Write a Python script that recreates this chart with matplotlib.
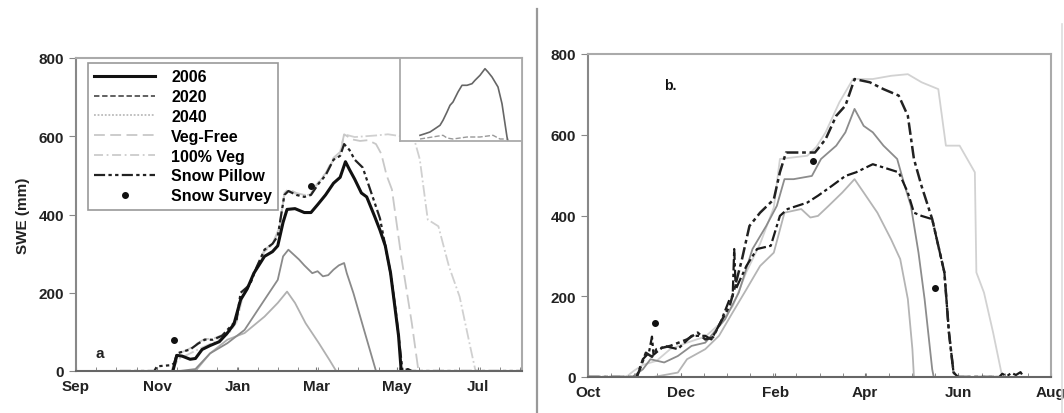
import numpy as np
import matplotlib
matplotlib.use("Agg")
import matplotlib.pyplot as plt
from matplotlib.lines import Line2D

plt.rcParams['font.family'] = ['Liberation Sans', 'DejaVu Sans']
plt.rcParams['font.weight'] = 'bold'

# ---- panel a (days since 1 Sep) ----
a_month_days = [0, 61, 122, 181, 242, 303]
a_month_labels = ['Sep', 'Nov', 'Jan', 'Mar', 'May', 'Jul']

a_2006_day = [73, 76, 80, 86, 90, 95, 101, 108, 114, 119, 124, 129, 134, 142, 148, 152, 156, 159, 165, 172,
              177, 182, 188, 194, 199, 203, 206, 210, 215, 219, 225, 229, 233, 237, 240, 243, 245]
a_2006_swe = [0, 40, 38, 30, 32, 55, 65, 75, 97, 120, 182, 210, 250, 293, 305, 320, 380, 413, 415, 405,
              405, 425, 450, 480, 495, 535, 515, 490, 455, 445, 395, 360, 320, 250, 170, 90, 0]

a_2020_day = [78, 90, 101, 114, 127, 142, 152, 156, 160, 168, 172, 178, 182, 186, 190, 194, 198, 202, 204, 209, 217, 226]
a_2020_swe = [0, 5, 45, 71, 105, 182, 233, 293, 310, 285, 270, 250, 255, 242, 245, 259, 270, 276, 250, 199, 105, 0]

a_2040_day = [90, 101, 114, 127, 142, 152, 159, 165, 173, 183, 191, 196]
a_2040_swe = [0, 45, 80, 97, 139, 174, 203, 174, 122, 71, 28, 0]

a_vegfree_day = [72, 76, 81, 86, 92, 97, 103, 110, 116, 121, 126, 131, 136, 142, 148, 153, 157, 160, 166, 172,
                 177, 183, 188, 194, 199, 202, 208, 214, 220, 226, 230, 234, 238, 245, 253, 258]
a_vegfree_swe = [0, 45, 50, 58, 72, 82, 82, 92, 102, 135, 205, 225, 265, 310, 325, 365, 455, 465, 455, 450,
                 455, 485, 505, 545, 560, 605, 592, 588, 590, 580, 555, 500, 464, 293, 122, 0]

a_veg100_day = [72, 77, 86, 95, 105, 115, 121, 126, 131, 136, 142, 148, 153, 157, 160, 166, 172, 177, 183, 188,
                194, 199, 202, 210, 218, 226, 235, 245, 255, 259, 265, 273, 281, 289, 297, 301]
a_veg100_swe = [0, 30, 45, 60, 75, 95, 125, 195, 222, 262, 305, 322, 360, 450, 462, 452, 448, 452, 482, 505,
                540, 555, 605, 598, 600, 602, 605, 600, 590, 541, 387, 370, 267, 190, 62, 0]

a_pillow_day = [33, 59, 61, 72, 74, 76, 81, 86, 92, 97, 103, 110, 114, 121, 124, 131, 136, 142, 148, 152, 157,
                160, 166, 172, 177, 183, 188, 194, 199, 202, 206, 210, 216, 220, 225, 229, 233, 237, 241, 244,
                246, 250, 253, 338]
a_pillow_swe = [0, 0, 12, 15, 20, 45, 50, 55, 70, 80, 80, 90, 105, 130, 200, 220, 265, 310, 325, 345, 450,
                460, 450, 445, 450, 480, 500, 540, 550, 580, 565, 540, 520, 480, 430, 390, 320, 250, 150, 60,
                0, 5, 0, 0]

a_survey_day = [74, 177]
a_survey_swe = [80, 473]

# inset (pixel-ish units of the little sub-plot)
inset_x = [20, 25, 30, 35, 40, 43, 47, 50, 53, 58, 62, 67, 72, 75, 80, 85, 88, 92, 95, 98, 102, 105, 107, 108]
inset_y = [5.7, 7.3, 9, 12.3, 15.7, 20.7, 29, 35.7, 39, 49, 55.7, 55.7, 57.3, 60.7, 65.7, 72.3, 69, 64, 59,
           54, 37.3, 17.3, 4, 0]
inset_low_x = [20, 43, 47, 53, 67, 80, 93, 100, 107]
inset_low_y = [2, 5.7, 3, 2, 4, 4, 5.7, 2, 2]

# ---- panel b (days since 1 Oct) ----
b_month_days = [0, 61, 123, 182, 243, 304]
b_month_labels = ['Oct', 'Dec', 'Feb', 'Apr', 'Jun', 'Aug']

b_upper_day = [0, 32, 34, 38, 42, 45, 54, 65, 72, 77, 82, 87, 93, 96, 101, 106, 113, 122, 126, 130, 145, 149,
               152, 156, 163, 169, 175, 185, 194, 204, 210, 214, 219, 226, 230, 234, 237, 240, 243, 268]
b_upper_swe = [0, 0, 19, 60, 50, 69, 77, 93, 110, 93, 98, 135, 176, 217, 290, 374, 407, 440, 507, 556, 556, 556,
               570, 589, 647, 672, 738, 730, 713, 697, 647, 540, 473, 391, 325, 259, 110, 11, 0, 0]

b_lower_day = [0, 32, 36, 40, 42, 43, 50, 59, 68, 77, 81, 87, 93, 95, 96, 97, 99, 104, 111, 120, 126, 131, 144,
               151, 160, 169, 176, 187, 194, 204, 210, 214, 219, 226, 230, 234, 237, 240, 243, 270, 272, 275,
               278, 281, 284, 286]
b_lower_swe = [0, 0, 44, 60, 100, 55, 77, 69, 102, 102, 93, 135, 193, 200, 317, 217, 234, 275, 317, 325, 399,
               416, 432, 449, 473, 498, 507, 527, 519, 507, 457, 407, 399, 391, 325, 259, 110, 11, 0, 0, 8, 2,
               10, 5, 12, 0]

b_mid_day = [29, 36, 41, 50, 59, 68, 77, 90, 99, 108, 117, 124, 129, 135, 147, 153, 163, 169, 175, 181, 187,
             194, 203, 208, 212, 217, 221, 226, 227]
b_mid_swe = [0, 19, 44, 36, 52, 77, 85, 143, 209, 317, 374, 424, 490, 490, 498, 540, 573, 606, 664, 622, 606,
             573, 540, 473, 424, 308, 193, 19, 0]

b_light_day = [43, 59, 65, 77, 86, 95, 104, 113, 122, 129, 140, 146, 151, 158, 167, 175, 181, 190, 199, 205,
               210, 213, 214]
b_light_swe = [0, 11, 44, 69, 102, 160, 217, 275, 308, 407, 416, 395, 399, 424, 457, 490, 457, 407, 341, 292,
               193, 69, 0]

b_pale_day = [25, 30, 36, 45, 54, 65, 77, 86, 95, 104, 113, 122, 126, 144, 150, 156, 165, 174, 187, 199, 210,
              219, 230, 235, 244, 249, 254, 255, 260, 266, 272]
b_pale_swe = [0, 15, 30, 40, 69, 85, 100, 130, 175, 260, 330, 420, 540, 548, 570, 606, 680, 738, 738, 746, 750,
              730, 713, 573, 573, 540, 507, 259, 209, 110, 0]

b_survey_day = [44, 148, 228]
b_survey_swe = [133, 534, 221]

W, H = 1064, 414
fig = plt.figure(figsize=(W / 100, H / 100), dpi=100)
fig.patch.set_facecolor('white')


def style_axes(ax, xmax, month_days, month_labels):
    ax.set_xlim(0, xmax)
    ax.set_ylim(0, 800)
    ax.set_yticks([0, 200, 400, 600, 800])
    ax.set_xticks(month_days)
    ax.set_xticklabels(month_labels)
    ax.set_xticks(np.arange(0, xmax, 15.2), minor=True)
    ax.tick_params(axis='y', direction='out', length=5, color='#888888', labelsize=11, labelcolor='#222222')
    ax.tick_params(axis='x', which='both', direction='in', length=3, color='#777777', labelsize=11,
                   labelcolor='#222222', pad=6)
    for lab in ax.get_xticklabels() + ax.get_yticklabels():
        lab.set_fontweight('bold')
    for side in ['top', 'right']:
        ax.spines[side].set_color('#aaaaaa')
        ax.spines[side].set_linewidth(1.5)
    ax.spines['left'].set_color('#888888')
    ax.spines['bottom'].set_color('#666666')
    ax.spines['left'].set_linewidth(1.5)
    ax.spines['bottom'].set_linewidth(1.5)


# panel a
ax1 = fig.add_axes([76 / W, 1 - 372 / H, 446 / W, 313 / H])
ax1.plot(a_veg100_day, a_veg100_swe, color='#d0d0d0', lw=1.3, ls='-.', label='100% Veg')
ax1.plot(a_vegfree_day, a_vegfree_swe, color='#c8c8c8', lw=1.3, ls=(0, (8, 3)), label='Veg-Free')
ax1.plot(a_2040_day, a_2040_swe, color='#b0b0b0', lw=1.3, ls='-', label='2040')
ax1.plot(a_2020_day, a_2020_swe, color='#8a8a8a', lw=1.3, ls='-', label='2020')
ax1.plot(a_pillow_day, a_pillow_swe, color='#222222', lw=1.6, ls=(0, (5, 1.5, 1.5, 1.5, 1.5, 1.5)),
         label='Snow Pillow')
ax1.plot(a_2006_day, a_2006_swe, color='#111111', lw=2.2, label='2006')
ax1.plot(a_survey_day, a_survey_swe, 'o', color='#111111', ms=4, label='Snow Survey')
ax1.text(15, 35, 'a', fontsize=11, fontweight='bold', color='#222222')
ax1.set_ylabel('SWE (mm)', fontsize=11, fontweight='bold', color='#222222', labelpad=6)
style_axes(ax1, 336, a_month_days, a_month_labels)

handles = [
    Line2D([], [], color='#111111', lw=2.2),
    Line2D([], [], color='#555555', lw=1.3, ls=(0, (3, 1.5))),
    Line2D([], [], color='#bbbbbb', lw=1.3, ls=(0, (1, 1))),
    Line2D([], [], color='#c8c8c8', lw=1.3, ls=(0, (6, 3))),
    Line2D([], [], color='#cccccc', lw=1.3, ls=(0, (5, 2, 1, 2))),
    Line2D([], [], color='#222222', lw=1.6, ls=(0, (5, 1.5, 1.5, 1.5, 1.5, 1.5))),
    Line2D([], [], color='#111111', ls='none', marker='o', ms=4),
]
labels = ['2006', '2020', '2040', 'Veg-Free', '100% Veg', 'Snow Pillow', 'Snow Survey']
leg = ax1.legend(handles, labels, loc='upper left', bbox_to_anchor=(12 / 446, 1 - 5 / 313),
                 borderaxespad=0, fancybox=False, framealpha=1, edgecolor='#999999',
                 prop={'family': ['Liberation Sans'], 'weight': 'bold', 'size': 11.5},
                 handlelength=3.8, handletextpad=1.0, labelspacing=0.3, borderpad=0.4)
leg.get_frame().set_linewidth(1.2)

# inset in panel a
ax_in = fig.add_axes([400 / W, 1 - 142 / H, 122 / W, 83 / H])
ax_in.plot(inset_x, inset_y, color='#666666', lw=1.2)
ax_in.plot(inset_low_x, inset_low_y, color='#999999', lw=1.0, ls='--')
ax_in.set_xlim(0, 122)
ax_in.set_ylim(0, 83)
ax_in.set_xticks([])
ax_in.set_yticks([])
for s in ax_in.spines.values():
    s.set_color('#aaaaaa')
    s.set_linewidth(1.3)

# panel b
ax2 = fig.add_axes([588 / W, 1 - 378 / H, 463 / W, 323 / H])
ax2.plot(b_pale_day, b_pale_swe, color='#d2d2d2', lw=1.3)
ax2.plot(b_light_day, b_light_swe, color='#b4b4b4', lw=1.3)
ax2.plot(b_mid_day, b_mid_swe, color='#8c8c8c', lw=1.3)
ax2.plot(b_lower_day, b_lower_swe, color='#1a1a1a', lw=1.6, ls=(0, (5, 1.5, 1.5, 1.5)))
ax2.plot(b_upper_day, b_upper_swe, color='#222222', lw=1.8, ls=(0, (5, 1.5, 1.5, 1.5)))
ax2.plot(b_survey_day, b_survey_swe, 'o', color='#111111', ms=4)
ax2.text(50, 713, 'b.', fontsize=10, fontweight='bold', color='#111111')
style_axes(ax2, 304, b_month_days, b_month_labels)

# composite borders
fig.add_artist(Line2D([537 / W, 537 / W], [0, 1 - 10 / H], color='#999999', lw=1.6))
fig.add_artist(Line2D([1062 / W, 1062 / W], [0, 1 - 25 / H], color='#dddddd', lw=1.2))

fig.savefig('out.png', dpi=100, facecolor='white')
